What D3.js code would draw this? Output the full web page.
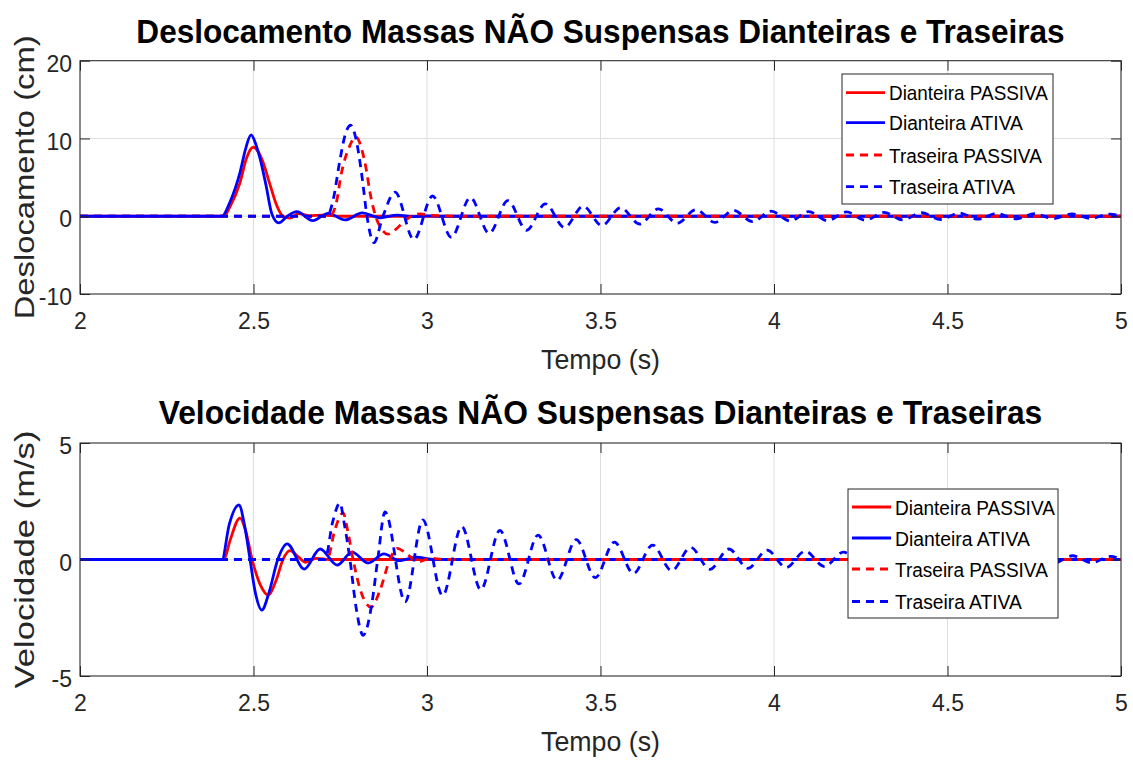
<!DOCTYPE html>
<html>
<head>
<meta charset="utf-8">
<script src="https://cdn.jsdelivr.net/npm/d3@7/dist/d3.min.js"></script>
<style>
  html, body { margin: 0; padding: 0; background: #fff; }
  svg { display: block; }
  text { font-family: "Liberation Sans Narrow", "Arial Narrow", "Liberation Sans", Arial, sans-serif; }
</style>
</head>
<body>
<svg id="chart" width="1133" height="760"></svg>
<script>
// ---------------- DATA ----------------
const xTicks = [2, 2.5, 3, 3.5, 4, 4.5, 5];
const xTickLabels = ["2", "2.5", "3", "3.5", "4", "4.5", "5"];
const dispTicks = [-10, 0, 10, 20];
const dispTickLabels = ["-10", "0", "10", "20"];
const velTicks = [-5, 0, 5];
const velTickLabels = ["-5", "0", "5"];

const seriesNames = ["Dianteira PASSIVA", "Dianteira ATIVA", "Traseira PASSIVA", "Traseira ATIVA"];

// Displacement (cm) vs time (s)
const dispFrontPassive = [[2.0,0],[2.415,0],[2.432,1.2],[2.461,4.3],[2.48,7.5],[2.499,8.87],[2.515,8.2],[2.527,7.0],[2.548,4.0],[2.565,1.6],[2.585,0],[2.605,-0.25],[2.63,0.35],[2.66,0.05],[2.70,0.15],[2.75,0],[5.0,0]];
const dispFrontActive = [[2.0,0],[2.409,0],[2.432,1.8],[2.461,5.6],[2.478,8.8],[2.493,10.45],[2.507,9.2],[2.519,7.4],[2.536,4.0],[2.553,0.3],[2.573,-0.86],[2.597,0],[2.625,0.6],[2.671,-0.56],[2.715,0.38],[2.764,-0.48],[2.813,0.42],[2.865,-0.2],[2.914,0.15],[2.96,-0.05],[3.0,0.05],[3.05,0],[5.0,0]];
const dispRearPassive = [[2.0,0],[2.72,0],[2.74,2.0],[2.751,5.0],[2.775,8.8],[2.795,10.2],[2.812,8.6],[2.825,6.0],[2.836,3.0],[2.852,0],[2.87,-1.7],[2.888,-2.3],[2.91,-1.7],[2.935,-0.6],[2.955,0],[2.98,0.3],[3.02,0.1],[3.1,0],[5.0,0]];
const dispRearActive = [[2.0,0],[2.712,0],[2.73,2.2],[2.749,7.2],[2.765,10.6],[2.78,11.7],[2.795,10.0],[2.813,5.0],[2.827,0],[2.847,-3.4],[2.873,0],[2.908,3.1],[2.962,-3.0],[3.016,2.6],[3.070,-2.7],[3.125,2.4],[3.179,-2.2],[3.233,2.0],[3.287,-1.8],[3.341,1.6],[3.396,-1.45],[3.450,1.3],[3.504,-1.2],[3.558,1.1],[3.613,-1.0],[3.667,0.95],[3.721,-0.9],[3.775,0.85],[3.829,-0.8],[3.883,0.75],[3.938,-0.7],[3.992,0.65],[4.046,-0.62],[4.100,0.6],[4.154,-0.57],[4.209,0.55],[4.263,-0.52],[4.317,0.5],[4.371,-0.47],[4.425,0.45],[4.480,-0.42],[4.534,0.4],[4.588,-0.38],[4.642,0.36],[4.696,-0.34],[4.751,0.32],[4.805,-0.3],[4.859,0.3],[4.913,-0.28],[4.967,0.27],[5.0,0.05]];

// Velocity (m/s) vs time (s)
const velFrontPassive = [[2.0,0],[2.415,0],[2.432,0.8],[2.461,1.78],[2.478,1.2],[2.496,0],[2.52,-1.1],[2.542,-1.52],[2.565,-0.9],[2.585,0],[2.605,0.38],[2.63,0.1],[2.65,-0.12],[2.68,0.05],[2.72,0],[5.0,0]];
const velFrontActive = [[2.0,0],[2.409,0],[2.43,1.5],[2.458,2.34],[2.475,1.4],[2.49,0],[2.505,-1.4],[2.524,-2.17],[2.545,-1.4],[2.57,0],[2.597,0.67],[2.646,-0.41],[2.692,0.45],[2.741,-0.24],[2.784,0.32],[2.830,-0.15],[2.876,0.24],[2.92,-0.05],[2.97,0.1],[3.02,0],[5.0,0]];
const velRearPassive = [[2.0,0],[2.712,0],[2.735,1.3],[2.758,2.0],[2.772,1.2],[2.787,0],[2.81,-1.4],[2.839,-2.04],[2.865,-1.3],[2.893,0],[2.914,0.48],[2.945,0.2],[2.975,-0.1],[3.01,0.05],[3.05,0],[5.0,0]];
const velRearActive = [[2.0,0],[2.706,0],[2.728,1.6],[2.749,2.42],[2.762,1.5],[2.778,0],[2.795,-2.0],[2.816,-3.25],[2.84,-2.0],[2.858,0],[2.879,2.04],[2.937,-1.82],[2.988,1.7],[3.045,-1.55],[3.100,1.42],[3.155,-1.3],[3.210,1.25],[3.265,-1.05],[3.320,1.05],[3.375,-0.9],[3.430,0.85],[3.485,-0.78],[3.540,0.75],[3.595,-0.6],[3.650,0.62],[3.705,-0.48],[3.760,0.52],[3.815,-0.42],[3.870,0.45],[3.925,-0.38],[3.980,0.4],[4.035,-0.34],[4.090,0.36],[4.145,-0.3],[4.200,0.32],[4.255,-0.27],[4.310,0.28],[4.365,-0.25],[4.420,0.25],[4.475,-0.22],[4.530,0.22],[4.585,-0.2],[4.640,0.2],[4.695,-0.18],[4.750,0.18],[4.805,-0.16],[4.860,0.16],[4.915,-0.14],[4.970,0.13],[5.0,0]];

// ---------------- DRAWING ----------------
const svg = d3.select("#chart");
const styles = [
  { color: "#ff0000", dash: null },
  { color: "#0000ff", dash: null },
  { color: "#ff0000", dash: "8,6" },
  { color: "#0000ff", dash: "8,6" }
];
const axisColor = "#262626";
const gridColor = "#dedede";

// place a text at (x,y) and stretch it horizontally to width w
function fitText(sel, x, y, w, extra) {
  const n = sel.node().getComputedTextLength();
  const s = n > 0 ? w / n : 1;
  sel.attr("x", 0).attr("y", 0)
    .attr("transform", `translate(${x},${y}) ${extra || ""} scale(${s},1)`);
  return sel;
}

const panels = [
  {
    id: "p1", top: 60.7, bottom: 294, domain: [-10, 20], ticks: dispTicks, tickLabels: dispTickLabels,
    series: [dispFrontPassive, dispFrontActive, dispRearPassive, dispRearActive],
    title: "Deslocamento Massas NÃO Suspensas Dianteiras e Traseiras", titleY: 43, titleW: 929,
    ylabel: "Deslocamento (cm)", ylabelW: 284, xlabelY: 369,
    legend: { x0: 842, y0: 74, x1: 1053, y1: 204, rows: [92.7, 122.7, 155, 186.7], lineX0: 846, lineX1: 885, textX: 889, textW: [159, 134, 153, 126] }
  },
  {
    id: "p2", top: 443, bottom: 676, domain: [-5, 5], ticks: velTicks, tickLabels: velTickLabels,
    series: [velFrontPassive, velFrontActive, velRearPassive, velRearActive],
    title: "Velocidade Massas NÃO Suspensas Dianteiras e Traseiras", titleY: 424, titleW: 884,
    ylabel: "Velocidade (m/s)", ylabelW: 258, xlabelY: 751,
    legend: { x0: 848, y0: 489, x1: 1058, y1: 618, rows: [507, 538, 569, 601.5], lineX0: 852, lineX1: 891, textX: 895, textW: [160, 135, 153, 127] }
  }
];

const left = 80, right = 1121;

panels.forEach(p => {
  const x = d3.scaleLinear().domain([2, 5]).range([left, right]);
  const y = d3.scaleLinear().domain(p.domain).range([p.bottom, p.top]);
  const g = svg.append("g");

  svg.append("clipPath").attr("id", "clip-" + p.id)
    .append("rect").attr("x", left).attr("y", p.top).attr("width", right - left).attr("height", p.bottom - p.top);

  // grid
  g.append("g").selectAll("line").data(xTicks).join("line")
    .attr("x1", d => x(d)).attr("x2", d => x(d)).attr("y1", p.top).attr("y2", p.bottom)
    .attr("stroke", gridColor).attr("stroke-width", 1);
  g.append("g").selectAll("line").data(p.ticks).join("line")
    .attr("x1", left).attr("x2", right).attr("y1", d => y(d)).attr("y2", d => y(d))
    .attr("stroke", gridColor).attr("stroke-width", 1);

  // lines
  const line = d3.line().x(d => x(d[0])).y(d => y(d[1])).curve(d3.curveMonotoneX);
  const lg = g.append("g").attr("clip-path", "url(#clip-" + p.id + ")");
  p.series.forEach((s, i) => {
    lg.append("path").datum(s).attr("d", line)
      .attr("fill", "none").attr("stroke", styles[i].color).attr("stroke-width", 2.8)
      .attr("stroke-linejoin", "round")
      .attr("stroke-dasharray", styles[i].dash);
  });

  // axes
  const fs = 23;
  const xb = g.append("g").attr("transform", `translate(0,${p.bottom})`)
    .call(d3.axisBottom(x).tickValues(xTicks).tickFormat((d, i) => xTickLabels[i]).tickSizeInner(-10).tickSizeOuter(0).tickPadding(19));
  const xt = g.append("g").attr("transform", `translate(0,${p.top})`)
    .call(d3.axisTop(x).tickValues(xTicks).tickFormat("").tickSizeInner(-10).tickSizeOuter(0));
  const yl = g.append("g").attr("transform", `translate(${left},0)`)
    .call(d3.axisLeft(y).tickValues(p.ticks).tickFormat((d, i) => p.tickLabels[i]).tickSizeInner(-10).tickSizeOuter(0).tickPadding(8));
  const yr = g.append("g").attr("transform", `translate(${right},0)`)
    .call(d3.axisRight(y).tickValues(p.ticks).tickFormat("").tickSizeInner(-10).tickSizeOuter(0));
  [xb, xt, yl, yr].forEach(a => {
    a.select(".domain").remove();
    a.selectAll("line").attr("stroke", axisColor).attr("stroke-width", 1);
    a.selectAll("text").attr("fill", axisColor).style("font-size", fs + "px");
  });
  yl.selectAll("text").attr("dy", "0.46em");

  // box
  g.append("rect").attr("x", left).attr("y", p.top).attr("width", right - left).attr("height", p.bottom - p.top)
    .attr("fill", "none").attr("stroke", axisColor).attr("stroke-width", 1);

  // title
  const t = svg.append("text").attr("text-anchor", "middle").attr("fill", "#000")
    .style("font-size", "34px").style("font-weight", "bold").text(p.title);
  fitText(t, (left + right) / 2, p.titleY, p.titleW);

  // x label
  const xl = svg.append("text").attr("text-anchor", "middle").attr("fill", axisColor)
    .style("font-size", "28px").text("Tempo (s)");
  fitText(xl, (left + right) / 2, p.xlabelY, 119);

  // y label
  const cy = (p.top + p.bottom) / 2;
  const ylab = svg.append("text").attr("text-anchor", "middle").attr("fill", axisColor)
    .style("font-size", "28px").text(p.ylabel);
  fitText(ylab, 34, cy, p.ylabelW, "rotate(-90)");

  // legend
  const L = p.legend;
  const leg = svg.append("g");
  leg.append("rect").attr("x", L.x0).attr("y", L.y0).attr("width", L.x1 - L.x0).attr("height", L.y1 - L.y0)
    .attr("fill", "#fff").attr("stroke", axisColor).attr("stroke-width", 1);
  seriesNames.forEach((name, i) => {
    leg.append("line").attr("x1", L.lineX0).attr("x2", L.lineX1).attr("y1", L.rows[i]).attr("y2", L.rows[i])
      .attr("stroke", styles[i].color).attr("stroke-width", 2.8).attr("stroke-dasharray", styles[i].dash);
    const lt = leg.append("text").attr("fill", "#000").style("font-size", "21px").text(name);
    fitText(lt, L.textX, L.rows[i] + 7.5, L.textW[i]);
  });
});
</script>
</body>
</html>
